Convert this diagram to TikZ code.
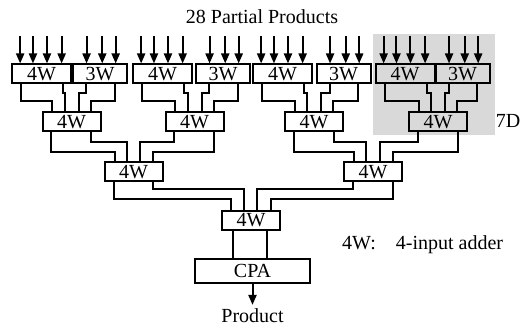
\documentclass[tikz,border=0pt]{standalone}
\usepackage{fontspec}
\setmainfont{Liberation Serif}
\usetikzlibrary{arrows.meta,calc}
\tikzset{
  every node/.style={font=\fontsize{20}{23}\selectfont,inner sep=0pt},
  adder/.style={draw,line width=2pt,minimum height=19pt},
  fourw/.style={adder,minimum width=59pt},
  threew/.style={adder,minimum width=54pt},
  merger/.style={adder,minimum width=58pt},
  wire/.style={line width=2pt},
  feed/.style={line width=2pt,-{Triangle[length=10pt,width=8pt]}},
  shade7d/.style={fill=black!15},
}
% wire from output pin of #1 (fraction #2) to input pin of #3 (fraction #4), jog #5 above #3
\newcommand{\wireto}[5]{\draw[wire] ($(#1.south west)!#2!(#1.south east)$) |- ($(#3.north west)!#4!(#3.north east)+(0,-#5)$) -- ($(#3.north west)!#4!(#3.north east)$);}
\begin{document}
\begin{tikzpicture}[x=1pt,y=-1pt]
\useasboundingbox (0,0) rectangle (530,328);
\fill[shade7d] (373,34) rectangle (495,135);
\node (head) at (262,17) {28 Partial Products};
% partial product adders
\node[fourw] (t1) at (41.5,74) {4W};
\node[threew] (t2) at (100,74) {3W};
\node[fourw] (t3) at (162.5,74) {4W};
\node[threew] (t4) at (223,74) {3W};
\node[fourw] (t5) at (282.5,74) {4W};
\node[threew] (t6) at (343.5,74) {3W};
\node[fourw] (t7) at (405,74) {4W};
\node[threew] (t8) at (462.5,74) {3W};
\foreach \u in {t1,t3,t5,t7}
  \foreach \f in {0.15,0.36,0.59,0.83}
    \draw[feed] ($(\u.north west)!\f!(\u.north east)+(0,-27)$) -- ($(\u.north west)!\f!(\u.north east)$);
\foreach \u in {t2,t4,t6,t8}
  \foreach \f in {0.26,0.54,0.78}
    \draw[feed] ($(\u.north west)!\f!(\u.north east)+(0,-27)$) -- ($(\u.north west)!\f!(\u.north east)$);
% tree of 4-input adders
\node[merger] (m1) at (71.5,122) {4W};
\node[merger] (m2) at (194.5,122) {4W};
\node[merger] (m3) at (314,122) {4W};
\node[merger] (m4) at (438,122) {4W};
\node[merger] (n1) at (133.5,172) {4W};
\node[merger] (n2) at (373,172) {4W};
\node[merger] (r1) at (251,220.5) {4W};
\node[adder,minimum width=115pt,minimum height=24pt] (cpa) at (252.5,271) {CPA};
\foreach \lft/\rgt/\dst in {t1/t2/m1,t3/t4/m2,t5/t6/m3,t7/t8/m4}{
  \wireto{\lft}{0.17}{\dst}{0.18}{10}
  \wireto{\lft}{0.86}{\dst}{0.39}{18}
  \wireto{\rgt}{0.25}{\dst}{0.62}{18}
  \wireto{\rgt}{0.76}{\dst}{0.82}{10}
}
\foreach \lft/\rgt/\dst in {m1/m2/n1,m3/m4/n2}{
  \wireto{\lft}{0.16}{\dst}{0.19}{9}
  \wireto{\lft}{0.83}{\dst}{0.39}{19}
  \wireto{\rgt}{0.16}{\dst}{0.61}{19}
  \wireto{\rgt}{0.83}{\dst}{0.83}{9}
}
\wireto{n1}{0.17}{r1}{0.17}{11}
\wireto{n1}{0.83}{r1}{0.38}{21}
\wireto{n2}{0.17}{r1}{0.60}{21}
\wireto{n2}{0.83}{r1}{0.84}{11}
\coordinate (sumout) at ($(r1.south west)!0.2!(r1.south east)$);
\coordinate (carryout) at ($(r1.south west)!0.76!(r1.south east)$);
\draw[wire] (sumout) -- (sumout |- cpa.north);
\draw[wire] (carryout) -- (carryout |- cpa.north);
\node[anchor=base] (prod) at (252.5,323) {Product};
\draw[feed,shorten >=4pt] (cpa.south) -- (prod.north);
\node (tag7d) at (508,121) {7D};
\node[anchor=base west] (legend) at (342,250) {4W:\hspace{1em}4-input adder};
\end{tikzpicture}
\end{document}
